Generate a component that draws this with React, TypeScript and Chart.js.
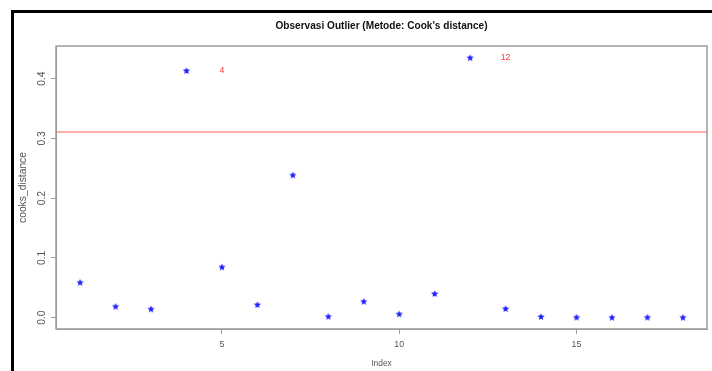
import React, { useEffect, useRef } from "react";
import { Chart, registerables } from "chart.js";

Chart.register(...registerables);

// ---- data ----
const indexValues = [1, 2, 3, 4, 5, 6, 7, 8, 9, 10, 11, 12, 13, 14, 15, 16, 17, 18];
const cooksDistance = [
  0.0586, 0.0184, 0.0141, 0.4129, 0.0843, 0.0213, 0.2383, 0.0017, 0.0268,
  0.0057, 0.0397, 0.4346, 0.0146, 0.0012, 0.0003, 0.0, 0.0002, 0.0,
];
const threshold = 0.311;
const outlierIndices = [4, 12];
const xTicks = [5, 10, 15];
const yTicks = [0, 0.1, 0.2, 0.3, 0.4];
const xRange = [0.32, 18.68];
const yRange = [-0.0189, 0.4547];
const titleText = "Observasi Outlier (Metode: Cook's distance)";
const xTitle = "Index";
const yTitle = "cooks_distance";

const SANS = "'Liberation Sans', Arial, sans-serif";

function makeStar(color: string, outer: number, inner: number) {
  const size = Math.ceil(outer * 2 + 2);
  const c = document.createElement("canvas");
  c.width = size;
  c.height = size;
  const ctx = c.getContext("2d")!;
  ctx.translate(size / 2, size / 2);
  ctx.beginPath();
  for (let i = 0; i < 10; i++) {
    const r = i % 2 === 0 ? outer : inner;
    const a = -Math.PI / 2 + (i * Math.PI) / 5;
    ctx.lineTo(r * Math.cos(a), r * Math.sin(a));
  }
  ctx.closePath();
  ctx.fillStyle = color;
  ctx.fill();
  return c;
}

const decorPlugin = {
  id: "rDecor",
  beforeDraw(chart: any) {
    const { ctx, width, height } = chart;
    ctx.save();
    ctx.fillStyle = "#ffffff";
    ctx.fillRect(0, 0, width, height);
    ctx.restore();
  },
  afterDatasetsDraw(chart: any) {
    const { ctx, scales } = chart;
    ctx.save();
    ctx.fillStyle = "#ff3333";
    ctx.font = `8.8px ${SANS}`;
    ctx.textAlign = "center";
    ctx.textBaseline = "middle";
    outlierIndices.forEach((idx) => {
      const i = indexValues.indexOf(idx);
      const px = scales.x.getPixelForValue(idx + 1);
      const py = scales.y.getPixelForValue(cooksDistance[i]);
      ctx.fillText(String(idx), px, py);
    });
    ctx.restore();
  },
  afterDraw(chart: any) {
    const { ctx, chartArea } = chart;
    ctx.save();
    ctx.strokeStyle = "#9a9a9a";
    ctx.lineWidth = 1.5;
    ctx.strokeRect(chartArea.left, chartArea.top, chartArea.right - chartArea.left, chartArea.bottom - chartArea.top);
    ctx.fillStyle = "#000000";
    ctx.fillRect(11, 10, 3, 361);
    ctx.fillRect(11, 10, 701, 3);
    ctx.restore();
  },
};

export default function App() {
  const ref = useRef<HTMLCanvasElement | null>(null);

  useEffect(() => {
    if (!ref.current) return;
    const star = makeStar("#2020ff", 3.8, 1.7);
    const chart = new Chart(ref.current, {
      type: "scatter",
      data: {
        datasets: [
          {
            label: "cooks_distance",
            data: indexValues.map((x, i) => ({ x, y: cooksDistance[i] })),
            pointStyle: star as any,
            pointRadius: 4,
            showLine: false,
          },
          {
            label: "threshold",
            data: [
              { x: xRange[0], y: threshold },
              { x: xRange[1], y: threshold },
            ],
            showLine: true,
            pointRadius: 0,
            borderColor: "rgba(255,60,60,0.55)",
            borderWidth: 1.5,
          },
        ],
      },
      options: {
        animation: false,
        responsive: false,
        devicePixelRatio: 1,
        layout: { padding: { left: 0, right: 3, top: 0, bottom: 0 } },
        plugins: {
          legend: { display: false },
          tooltip: { enabled: false },
          title: {
            display: true,
            fullSize: false,
            text: titleText,
            color: "#111111",
            font: { family: SANS, size: 10.1, weight: "bold", lineHeight: 1.2 },
            padding: { top: 20.5, bottom: 13.4 },
          },
        },
        scales: {
          x: {
            type: "linear",
            min: xRange[0],
            max: xRange[1],
            afterBuildTicks: (s: any) => {
              s.ticks = xTicks.map((v) => ({ value: v }));
            },
            afterFit: (s: any) => {
              s.height = 42;
            },
            grid: { drawOnChartArea: false, drawTicks: true, tickLength: 5, color: "#9a9a9a", lineWidth: 1 },
            border: { display: true, color: "#9a9a9a", width: 1 },
            ticks: {
              autoSkip: false,
              maxRotation: 0,
              padding: 4.8,
              color: "#555555",
              font: { family: SANS, size: 8.8 },
              callback: (v: any) => String(v),
            },
            title: {
              display: true,
              text: xTitle,
              color: "#555555",
              font: { family: SANS, size: 8.4 },
              padding: { top: 0, bottom: 1.8 },
            },
          },
          y: {
            type: "linear",
            min: yRange[0],
            max: yRange[1],
            afterBuildTicks: (s: any) => {
              s.ticks = yTicks.map((v) => ({ value: v }));
            },
            afterFit: (s: any) => {
              s.width = 56;
            },
            grid: { drawOnChartArea: false, drawTicks: true, tickLength: 5, color: "#9a9a9a", lineWidth: 1 },
            border: { display: true, color: "#9a9a9a", width: 1 },
            ticks: {
              autoSkip: false,
              minRotation: 90,
              maxRotation: 90,
              crossAlign: "center",
              padding: 1.5,
              color: "#555555",
              font: { family: SANS, size: 10.3 },
              callback: (v: any) => Number(v).toFixed(1),
            },
            title: {
              display: true,
              text: yTitle,
              color: "#555555",
              font: { family: SANS, size: 10.3 },
              padding: { top: 16.5, bottom: 0 },
            },
          },
        },
      },
      plugins: [decorPlugin],
    } as any);
    return () => chart.destroy();
  }, []);

  return (
    <div style={{ position: "absolute", left: 0, top: 0, width: 712, height: 371, background: "#fff" }}>
      <canvas ref={ref} width={712} height={371} style={{ display: "block" }} />
    </div>
  );
}
